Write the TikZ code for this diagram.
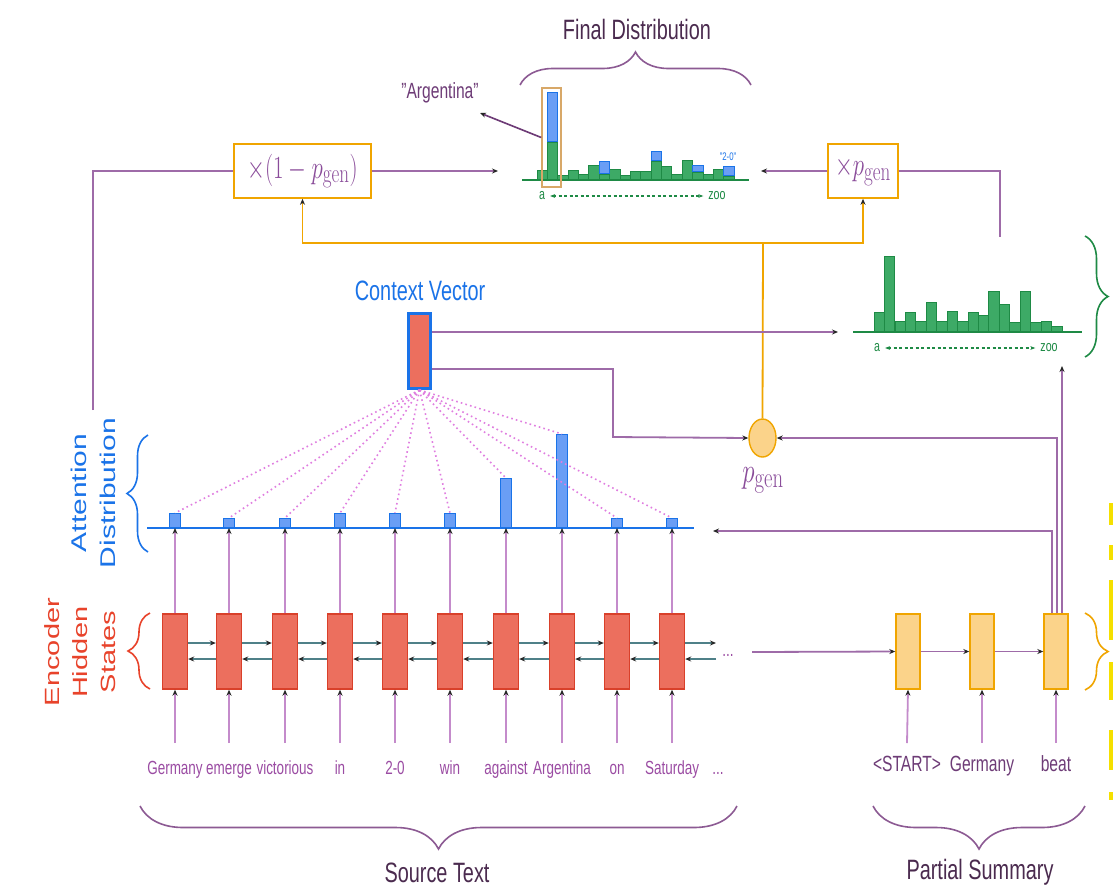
\documentclass[tikz,border=0pt]{standalone}
\usepackage[no-math]{fontspec}
\setmainfont{Liberation Sans}
\usetikzlibrary{arrows.meta,decorations.pathreplacing,shapes.geometric}
\definecolor{ered}{HTML}{EC6F5E}
\definecolor{eredb}{HTML}{D9402A}
\definecolor{ered2}{HTML}{E8432B}
\definecolor{dfill}{HTML}{FBD38A}
\definecolor{dorange}{HTML}{F0A500}
\definecolor{pline}{HTML}{9E6BA8}
\definecolor{plight}{HTML}{C48BCB}
\definecolor{pword}{HTML}{9B4CA3}
\definecolor{pdword}{HTML}{6E3C77}
\definecolor{pdark}{HTML}{4B2B4F}
\definecolor{pbrace}{HTML}{8C5A93}
\definecolor{pmath}{HTML}{8A4C9A}
\definecolor{abl}{HTML}{1A73E8}
\definecolor{abfill}{HTML}{6A9EF5}
\definecolor{vgd}{HTML}{1E8A45}
\definecolor{vgfill}{HTML}{3DAA66}
\definecolor{tealc}{HTML}{4F8088}
\definecolor{pinkd}{HTML}{E07DE0}
\definecolor{tanc}{HTML}{D8A868}
\definecolor{yel}{HTML}{F5E000}
\begin{document}
\begin{tikzpicture}[x=1pt,y=-1pt,
  sq/.style={xscale=0.71,inner sep=0pt},
  tipk/.style={-{Stealth[length=6pt,width=5pt,color=black!85]}},
  pl/.style={draw=pline,line width=1.8pt},
  pv/.style={draw=plight,line width=1.8pt},
  ol/.style={draw=dorange,line width=1.8pt},
  tl/.style={draw=tealc,line width=1.8pt},
  ebox/.style={draw=eredb,fill=ered,line width=1.4pt,minimum width=25pt,minimum height=75pt,inner sep=0pt},
  dbox/.style={draw=dorange,fill=dfill,line width=1.4pt,minimum width=24pt,minimum height=75pt,inner sep=0pt},
  mbox/.style={draw=dorange,fill=white,line width=1.6pt,inner sep=0pt,minimum height=54pt,text=pmath,font=\fontsize{24.88}{24.88}\selectfont},
  abar/.style={draw=abl,fill=abfill,line width=1pt,minimum width=11pt,inner sep=0pt,anchor=south},
  gbar/.style={draw=vgd,fill=vgfill,line width=0.8pt,minimum width=10.4pt,inner sep=0pt,anchor=south},
  bbar/.style={draw=abl,fill=abfill,line width=0.8pt,minimum width=10.4pt,inner sep=0pt,anchor=south},
  brc/.style={decorate,decoration={brace,amplitude=#1},line width=1.6pt},
  word/.style={sq,anchor=base,font=\fontsize{19}{19}\selectfont,text=pword},
  dword/.style={sq,anchor=base,font=\fontsize{22}{22}\selectfont,text=pdword},
  big/.style={sq,font=\fontsize{28}{28}\selectfont,text=pdark},
  gsm/.style={sq,font=\fontsize{15}{15}\selectfont,text=vgd},
  rot/.style={xscale=0.71,rotate=90,inner sep=0pt,font=\fontsize{30}{30}\selectfont},
  dotl/.style={draw=pinkd,line width=1.6pt,dash pattern=on 1.6pt off 3.2pt}
]
\clip (0,0) rectangle (1113,892);
\fill[white] (0,0) rectangle (1113,892);

% ---------- encoder ----------
\draw[abl,line width=1.8pt] (147,528) -- (694,528);
\foreach \i/\x/\h/\w in {1/175/14/Germany,2/229/9/emerge,3/285/9/victorious,4/340/14/in,5/395/14/2-0,6/450/14/win,7/506/49/against,8/562/93/Argentina,9/617/9/on,10/672/9/Saturday}{
  \node[ebox] (e\i) at (\x,651.5) {};
  \node[abar,minimum height=\h pt] (a\i) at (\x,528) {};
  \node[word] (w\i) at (\x,774) {\w};
  \coordinate (in\i) at (\x,743);
  \draw[pv,tipk] (in\i) -- (e\i.south);
  \draw[pv,tipk] (e\i.north) -- (a\i.south);
}
\node[word] (wdots) at (718,774) {...};
\foreach \i in {1,...,9}{
  \pgfmathtruncatemacro\j{\i+1}
  \draw[tl,tipk] ([yshift=8.5pt]e\i.east) -- ([yshift=8.5pt]e\j.west);
  \draw[tl,tipk] ([yshift=-7.5pt]e\j.west) -- ([yshift=-7.5pt]e\i.east);
}
\coordinate (eout) at (716,643);
\coordinate (ein) at (716,659);
\draw[tl,tipk] ([yshift=8.5pt]e10.east) -- (eout);
\draw[tl,tipk] (ein) -- ([yshift=-7.5pt]e10.east);
\node[word] (edots) at (728,656) {...};

% ---------- context vector ----------
\node[draw=abl,fill=ered,line width=3pt,minimum width=22pt,minimum height=75pt,inner sep=0pt] (cv) at (419.5,351) {};
\node[sq,font=\fontsize{28}{28}\selectfont,text=abl] (cvl) at (420,291) {Context Vector};
\foreach \i in {1,...,10}{
  \draw[dotl] (cv.south) -- (a\i.north);
}

% ---------- decoder ----------
\node[dbox] (d1) at (908,651.5) {};
\node[dbox] (d2) at (982,651.5) {};
\node[dbox] (d3) at (1056,651.5) {};
\coordinate (encend) at (752,652);
\draw[pl,tipk] (encend) -- (d1.west);
\draw[pl,tipk] (d1.east) -- (d2.west);
\draw[pl,tipk] (d2.east) -- (d3.west);
\foreach \i/\x/\w in {1/907/{<START>},2/982/Germany,3/1056/beat}{
  \node[dword] (dw\i) at (\x,771) {\w};
  \coordinate (din\i) at (\x,743);
  \draw[pv,tipk] (din\i) -- (d\i.south);
}

% ---------- p_gen ----------
\node[ellipse,draw=dorange,fill=dfill,line width=1.4pt,minimum width=27pt,minimum height=38pt,inner sep=0pt] (pg) at (762.5,438) {};
\node[inner sep=0pt,text=pmath,font=\fontsize{24.88}{24.88}\selectfont] (pgl) at (763,480) {\scalebox{1.0}[1.4]{$p_{\mathrm{gen}}$}};

% ---------- vocabulary distribution ----------
\draw[vgd,line width=1.8pt] (853,332) -- (1082,332);
\foreach \h [count=\i] in {19,75,10,19,10,29,10,20,10,19,16,40,27,9,40,9,10,5}{
  \pgfmathsetmacro\xx{874+10.44*(\i-0.5)}
  \node[gbar,minimum height=\h pt] (vb\i) at (\xx,332) {};
}
\node[gsm] (va) at (877,348) {a};
\node[gsm] (vz) at (1049,348) {zoo};
\draw[vgd,line width=1.3pt,dash pattern=on 3pt off 2.5pt,{Stealth[length=5pt]}-{Stealth[length=5pt]}] ([xshift=5pt]va.east) -- ([xshift=-5pt]vz.west);

% ---------- final distribution ----------
\draw[vgd,line width=1.8pt] (522,180) -- (749,180);
\foreach \h [count=\i] in {9,37,4,9,5,14,5,10,4,8,8,18,13,5,19,7,5,10,3}{
  \pgfmathsetmacro\xx{537+10.37*(\i-0.5)}
  \node[gbar,minimum height=\h pt] (fg\i) at (\xx,180) {};
}
\foreach \i/\h in {2/49,7/12,12/9,16/6,19/9}{
  \node[bbar,minimum height=\h pt] (fb\i) at (fg\i.north) {};
}
\node[draw=tanc,line width=1.5pt,minimum width=19pt,minimum height=99pt,inner sep=0pt] (hl) at (551.5,137.5) {};
\node[sq,font=\fontsize{22}{22}\selectfont,text=pdword] (arg) at (440,93) {"Argentina"};
\coordinate (argtip) at (480,113);
\draw[draw=pdword,line width=1.6pt,tipk] (hl.west) -- (argtip);
\node[sq,font=\fontsize{11}{11}\selectfont,text=abl] (two) at (728,157) {"2-0"};
\node[gsm] (fa) at (542,196) {a};
\node[gsm] (fz) at (717,196) {zoo};
\draw[vgd,line width=1.3pt,dash pattern=on 3pt off 2.5pt,{Stealth[length=5pt]}-{Stealth[length=5pt]}] ([xshift=5pt]fa.east) -- ([xshift=-5pt]fz.west);
\draw[brc=33pt,pbrace] (520,85) -- (751,85);
\node[big] (fdl) at (637,29) {Final Distribution};

% ---------- multiplier boxes ----------
\node[mbox,minimum width=137pt] (m1) at (302.5,171) {\scalebox{0.92}[1.3]{$\times(1-p_{\mathrm{gen}})$}};
\node[mbox,minimum width=70pt] (m2) at (863,171) {\scalebox{0.92}[1.3]{$\times p_{\mathrm{gen}}$}};
\coordinate (adout) at (93,410);
\draw[pl] (adout) |- (m1.west);
\coordinate (fdin) at (498,171);
\draw[pl,tipk] (m1.east) -- (fdin);
\coordinate (fdin2) at (761,171);
\draw[pl,tipk] (m2.west) -- (fdin2);
\coordinate (vtop) at (1000,237);
\draw[pl] (m2.east) -| (vtop);
\coordinate (oj) at (763,243);
\draw[ol] (pg.north) -- (oj);
\draw[ol,tipk] (oj) -| (m1.south);
\draw[ol,tipk] (oj) -| (m2.south);

% ---------- context vector connectors ----------
\coordinate (vdin) at (838,332);
\draw[pl,tipk] ([yshift=19pt]cv.east) -- (vdin);
\coordinate (bend) at (613,437);
\draw[pl,tipk] ([yshift=-18pt]cv.east) -| (bend) -- (pg.west);

% ---------- decoder state connectors ----------
\coordinate (attin) at (713,531);
\draw[pl,tipk] ([xshift=-4pt]d3.north) |- (attin);
\draw[pl,tipk] ([xshift=1pt]d3.north) |- (pg.east);
\coordinate (vin) at (1062,366);
\draw[pl,tipk] ([xshift=6pt]d3.north) -- (vin);

% ---------- side labels and braces ----------
\draw[brc=21pt,abl] (148,552) -- (148,435);
\node[rot,text=abl] (att1) at (79,493) {Attention};
\node[rot,text=abl] (att2) at (108,493) {Distribution};
\draw[brc=22pt,ered2] (150,689) -- (150,613);
\node[rot,text=ered2,font=\fontsize{29}{29}\selectfont] (enc1) at (52,652) {Encoder};
\node[rot,text=ered2,font=\fontsize{29}{29}\selectfont] (enc2) at (80,652) {Hidden};
\node[rot,text=ered2,font=\fontsize{29}{29}\selectfont] (enc3) at (108,652) {States};
\draw[brc=23pt,vgd] (1085,236) -- (1085,357);
\draw[brc=23pt,dorange] (1085,613) -- (1085,690);
% fragments of cut-off yellow marks at the right edge
\foreach \ya/\yb in {503/525,545/560,580/640,662/700,730/770,792/800}{
  \fill[yel] (1109,\ya) rectangle (1113,\yb);
}

\draw[brc=43pt,pbrace] (737,806) -- (140,806);
\node[big] (srcl) at (437,873) {Source Text};
\draw[brc=43pt,pbrace] (1085,806) -- (873,806);
\node[big] (psl) at (980,872) {Partial Summary};
\end{tikzpicture}
\end{document}
